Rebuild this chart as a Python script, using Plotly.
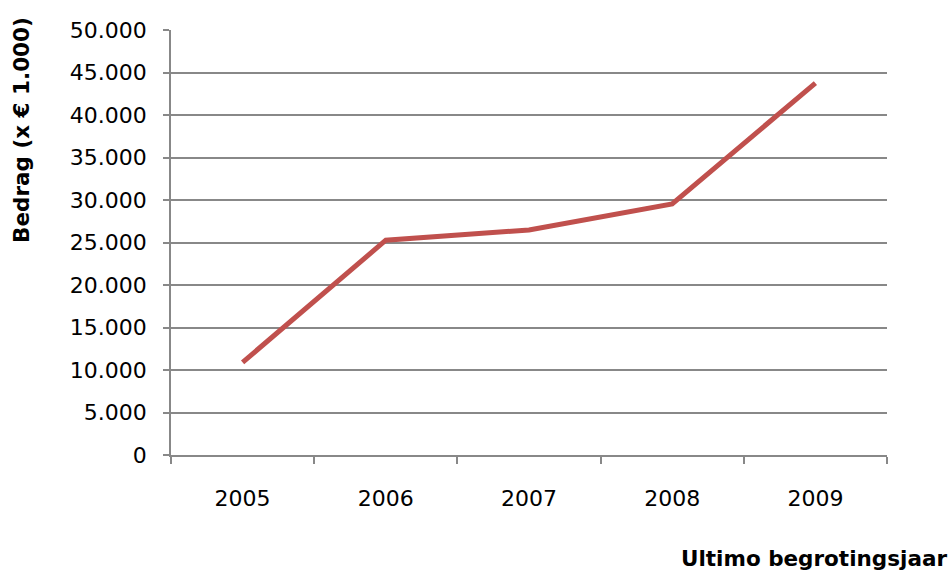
import plotly.graph_objects as go

# Year-end amounts (x € 1.000)
years = ["2005", "2006", "2007", "2008", "2009"]
amounts = [10900, 25270, 26470, 29530, 43760]
y_ticks = [0, 5000, 10000, 15000, 20000, 25000, 30000, 35000, 40000, 45000, 50000]
y_tick_labels = ["0", "5.000", "10.000", "15.000", "20.000", "25.000",
                 "30.000", "35.000", "40.000", "45.000", "50.000"]

grid_color = "#888888"
font_family = "DejaVu Sans"

fig = go.Figure(
    go.Scatter(
        x=years,
        y=amounts,
        mode="lines",
        line=dict(color="#C0504D", width=5),
        hoverinfo="skip",
    )
)

fig.update_layout(
    width=951,
    height=572,
    margin=dict(l=171, r=64, t=30, b=117),
    paper_bgcolor="white",
    plot_bgcolor="white",
    showlegend=False,
    font=dict(family=font_family, color="black", size=22),
)

fig.update_xaxes(
    type="category",
    range=[-0.5, len(years) - 0.5],
    tickson="boundaries",
    ticks="outside",
    ticklen=7,
    tickwidth=1.5,
    tickcolor=grid_color,
    showline=True,
    linecolor=grid_color,
    linewidth=1.5,
    showgrid=False,
    tickfont=dict(size=22, family=font_family),
    ticklabelstandoff=23,
)

fig.update_yaxes(
    range=[0, 50000],
    tickvals=y_ticks,
    ticktext=y_tick_labels,
    ticks="outside",
    ticklen=6,
    tickwidth=1.5,
    tickcolor=grid_color,
    showline=True,
    linecolor=grid_color,
    linewidth=1.5,
    showgrid=True,
    gridcolor=grid_color,
    gridwidth=1.5,
    zeroline=False,
    tickfont=dict(size=22, family=font_family),
    ticklabelstandoff=12,
)

# Axis titles
fig.add_annotation(
    text="<b>Bedrag (x € 1.000)</b>",
    xref="paper", yref="paper",
    x=-0.208, y=0.765,
    xanchor="center", yanchor="middle",
    textangle=-90,
    showarrow=False,
    font=dict(size=21.5, family=font_family, color="black"),
)
fig.add_annotation(
    text="<b>Ultimo begrotingsjaar</b>",
    xref="paper", yref="paper",
    x=1.086, y=-0.244,
    xanchor="right", yanchor="middle",
    showarrow=False,
    font=dict(size=21.5, family=font_family, color="black"),
)

fig.write_html("out.html")
